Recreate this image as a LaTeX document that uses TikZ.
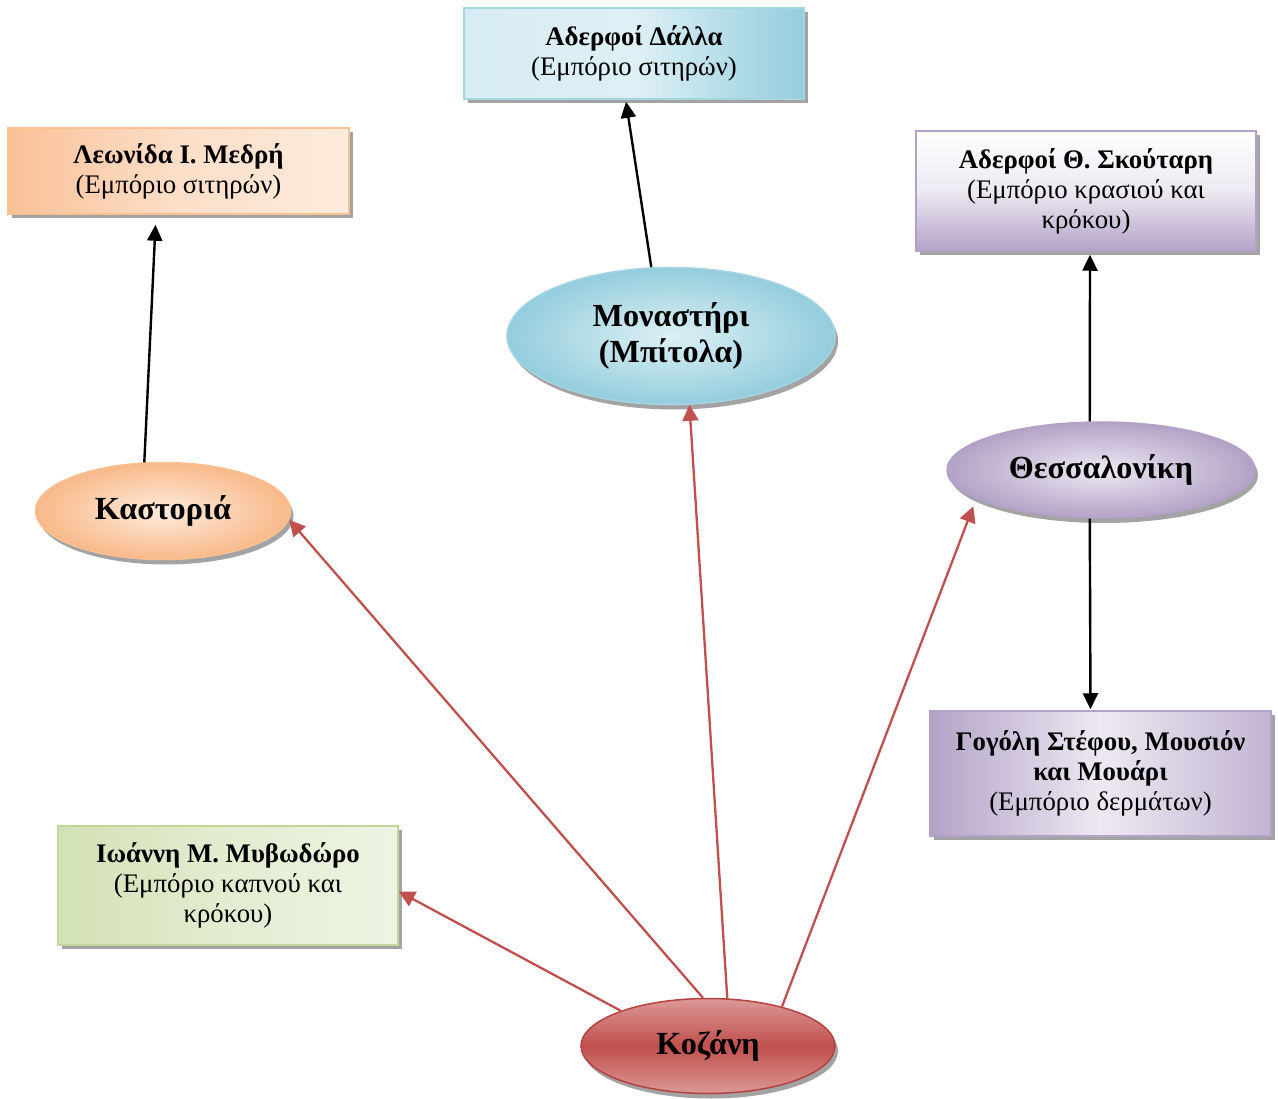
\documentclass[tikz,border=0pt]{standalone}
\usepackage{fontspec}
\setmainfont{Liberation Serif}
\usetikzlibrary{shapes.geometric,arrows.meta,shadows}
\definecolor{orD}{HTML}{F9B98A}\definecolor{orL}{HTML}{FDEBDD}\definecolor{orB}{HTML}{FAC090}
\definecolor{blD}{HTML}{93CDDD}\definecolor{blL}{HTML}{DEF0F5}\definecolor{blB}{HTML}{A5D5E2}
\definecolor{puD}{HTML}{B3A2C7}\definecolor{puL}{HTML}{EDE9F2}\definecolor{puB}{HTML}{B3A2C7}
\definecolor{grD}{HTML}{D2E1B5}\definecolor{grL}{HTML}{EEF4E3}\definecolor{grB}{HTML}{C3D69B}
\definecolor{rdD}{HTML}{C0504D}\definecolor{rdL}{HTML}{DB9896}\definecolor{rdB}{HTML}{B5423F}
\tikzset{
  box/.style={rectangle, draw, line width=1.5pt, align=center, inner sep=2pt,
    font=\fontsize{26.8}{30}\selectfont,
    drop shadow={shadow xshift=4pt, shadow yshift=-4pt, fill=black!45, opacity=0.8}},
  oval/.style={ellipse, draw, line width=1.5pt, align=center, inner sep=0pt,
    font=\fontsize{32.2}{36}\selectfont\bfseries,
    drop shadow={shadow xshift=3pt, shadow yshift=-5pt, fill=black!45, opacity=0.8}},
  blk/.style={line width=2.4pt, black, -{Triangle[length=16pt,width=15pt]}},
  red/.style={line width=2.3pt, color=rdD, -{Triangle[length=16pt,width=16pt]}},
}
\begin{document}
\begin{tikzpicture}[x=1pt,y=-1pt]
\useasboundingbox (0,0) rectangle (1278,1099);
% boxes
\node[box, draw=orB, minimum width=341pt, minimum height=86pt, left color=orD!85!orL, right color=orL, middle color=orL!75!orD] (leo) at (178.5,171) {\textbf{Λεωνίδα Ι. Μεδρή}\\(Εμπόριο σιτηρών)};
\node[box, draw=blB, minimum width=340pt, minimum height=91pt, left color=blL!90!blD, right color=blD, middle color=blL] (dal) at (634,53.5) {\textbf{Αδερφοί Δάλλα}\\(Εμπόριο σιτηρών)};
\node[box, draw=puB, minimum width=340pt, minimum height=120pt, top color=white, bottom color=puD, middle color=puL] (sko) at (1086,191) {\textbf{Αδερφοί Θ. Σκούταρη}\\(Εμπόριο κρασιού και\\κρόκου)};
\node[box, draw=puB, minimum width=341pt, minimum height=125pt, left color=puD, right color=puD!80, middle color=puL] (gog) at (1100.5,773.5) {\textbf{Γογόλη Στέφου, Μουσιόν}\\\textbf{και Μουάρι}\\(Εμπόριο δερμάτων)};
\node[box, draw=grB, minimum width=340pt, minimum height=119pt, left color=grD, right color=grL, middle color=grL!60!grD] (iwa) at (228,885.5) {\textbf{Ιωάννη Μ. Μυβωδώρο}\\(Εμπόριο καπνού και\\κρόκου)};
% ellipses
\node[oval, draw=blB, minimum width=328pt, minimum height=137pt, inner color=blL, outer color=blD] (mon) at (671,336) {Μοναστήρι\\(Μπίτολα)};
\node[oval, draw=puB, minimum width=308pt, minimum height=96pt, inner color=puL, outer color=puD] (the) at (1101,470) {Θεσσαλονίκη};
\node[oval, draw=orB, minimum width=255pt, minimum height=97pt, inner color=orL, outer color=orD] (kas) at (163,511) {Καστοριά};
\node[oval, draw=rdB, minimum width=254pt, minimum height=95pt, top color=rdL, bottom color=rdL, middle color=rdD] (koz) at (708,1046) {Κοζάνη};
% black arrows
\draw[blk] (kas.111) -- ([xshift=-23pt,yshift=-10pt]leo.south);
\draw[blk] (mon.106) -- ([xshift=-8pt,yshift=-2pt]dal.south);
\draw[blk] (the.103) -- ([xshift=4pt,yshift=-3pt]sko.south);
\draw[blk] (the.257) -- ([xshift=-10pt,yshift=1pt]gog.north);
% red arrows
\draw[red] (koz.96) -- (kas.-4);
\draw[red] (koz.68) -- (mon.-75);
\draw[red, shorten >=8pt] (koz.28) -- (the.193);
\draw[red] (koz.158) -- (iwa.-2.5);
\end{tikzpicture}
\end{document}
